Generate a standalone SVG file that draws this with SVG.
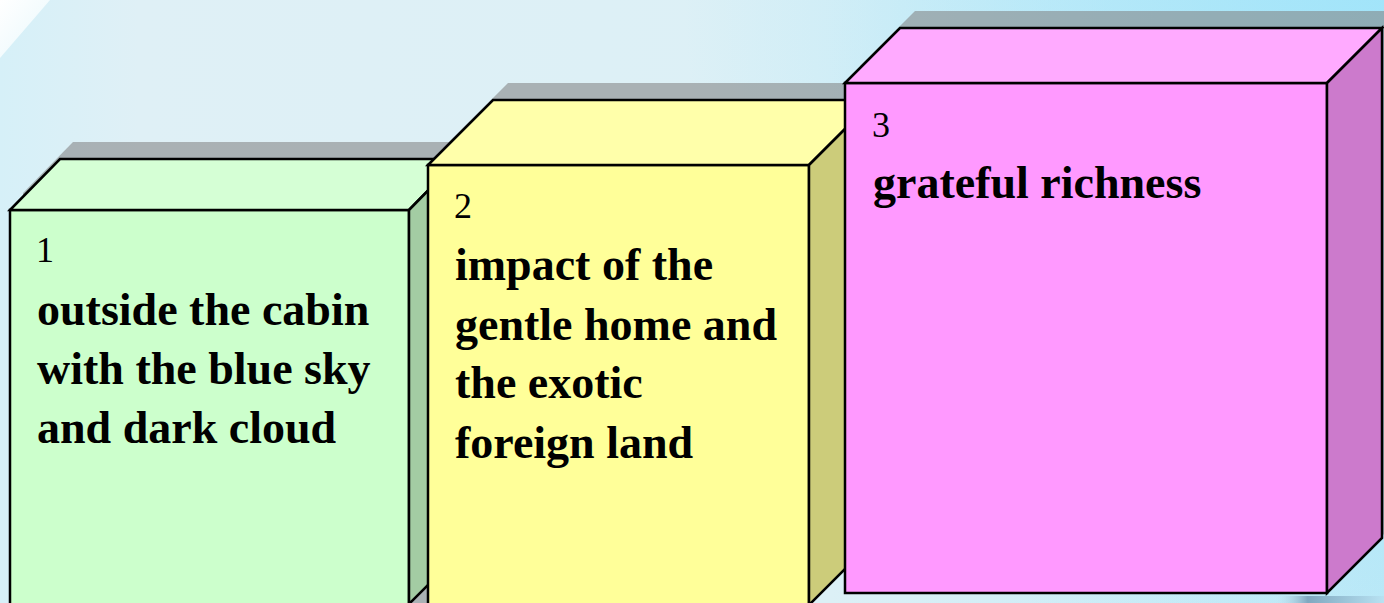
<svg xmlns="http://www.w3.org/2000/svg" width="1384" height="603" viewBox="0 0 1384 603">
<defs>
<linearGradient id="bg" x1="0" y1="0" x2="1" y2="0">
<stop offset="0" stop-color="#d6f0f8"/>
<stop offset="0.1" stop-color="#dff0f6"/>
<stop offset="0.6" stop-color="#dcf0f6"/>
<stop offset="1" stop-color="#bde9f7"/>
</linearGradient>
<radialGradient id="bgTop" cx="1384" cy="0" r="700" gradientUnits="userSpaceOnUse">
<stop offset="0" stop-color="#9fe4fa" stop-opacity="0.9"/>
<stop offset="1" stop-color="#9fe4fa" stop-opacity="0"/>
</radialGradient>
<linearGradient id="corner" x1="0" y1="0" x2="1" y2="1">
<stop offset="0" stop-color="#ffffff"/>
<stop offset="1" stop-color="#e8f8fc"/>
</linearGradient>
<linearGradient id="bottomBlue" x1="0" y1="0" x2="1" y2="0">
<stop offset="0" stop-color="#c8e4f0" stop-opacity="0"/>
<stop offset="0.3" stop-color="#7fa8c0"/>
<stop offset="1" stop-color="#b8e2f2"/>
</linearGradient>
</defs>
<style>
.edge{stroke:#000;stroke-width:2.5;stroke-linejoin:miter}
.shadow{fill:#808080;opacity:0.56}
.num{font-family:"Liberation Serif","Times New Roman",serif;font-size:36px;fill:#000}
.lbl{font-family:"Liberation Serif","Times New Roman",serif;font-size:46px;font-weight:bold;fill:#000}
</style>
<rect x="0" y="0" width="1384" height="603" fill="url(#bg)"/>
<rect x="0" y="0" width="1384" height="603" fill="url(#bgTop)"/>
<polygon points="0,0 50,0 0,58" fill="url(#corner)"/>
<rect x="1275" y="596" width="109" height="7" fill="url(#bottomBlue)"/>

<g id="box1">
<polygon class="shadow" points="23,621 23,193 73,142 472,142 472,589 422,621"/>
<rect class="edge" x="10" y="210" width="399" height="410" fill="#ccffcc"/>
<polygon class="edge" points="10,210 60,159 459,159 409,210" fill="#d5ffd5"/>
<polygon class="edge" points="409,210 459,159 459,554 409,604" fill="#a3cca3"/>
<text class="num" x="36" y="262">1</text>
<text class="lbl" x="37" y="325">outside the cabin</text>
<text class="lbl" x="37" y="384">with the blue sky</text>
<text class="lbl" x="37" y="443">and dark cloud</text>
</g>

<g id="box2">
<polygon class="shadow" points="443,621 443,148 508,83 889,83 889,523 824,588"/>
<rect class="edge" x="428" y="165" width="381" height="455" fill="#ffff99"/>
<polygon class="edge" points="428,165 493,100 874,100 809,165" fill="#ffffaa"/>
<polygon class="edge" points="809,165 874,100 874,540 809,605" fill="#cccc7a"/>
<text class="num" x="454" y="218">2</text>
<text class="lbl" x="455" y="280">impact of the</text>
<text class="lbl" x="455" y="340">gentle home and</text>
<text class="lbl" x="455" y="398">the exotic</text>
<text class="lbl" x="455" y="458">foreign land</text>
</g>

<g id="box3">
<polygon class="shadow" points="860,576 860,66 915,11 1397,11 1397,521 1342,576"/>
<rect class="edge" x="845" y="83" width="482" height="510" fill="#ff99ff"/>
<polygon class="edge" points="845,83 900,28 1382,28 1327,83" fill="#ffaaff"/>
<polygon class="edge" points="1327,83 1382,28 1382,538 1327,593" fill="#cc7acc"/>
<text class="num" x="872" y="137">3</text>
<text class="lbl" x="873" y="198">grateful richness</text>
</g>
</svg>
